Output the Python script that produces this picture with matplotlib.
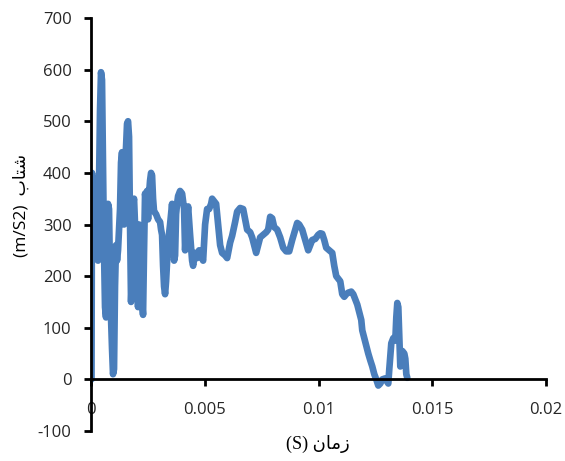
import matplotlib
matplotlib.use('Agg')
import matplotlib.pyplot as plt
import numpy as np

plt.rcParams['axes.unicode_minus'] = False

# time in microseconds, acceleration in m/s^2
time_us = [22, 44, 88, 132, 176, 220, 264, 308, 352, 396, 440, 484, 528, 572,
           616, 660, 704, 748, 792, 836, 880, 924, 968, 1012, 1056, 1100, 1144,
           1188, 1276, 1320, 1364, 1408, 1452, 1496, 1540, 1584, 1628, 1672,
           1716, 1760, 1804, 1848, 1892, 1936, 1980, 2024, 2068, 2112, 2156,
           2200, 2244, 2288, 2332, 2376, 2420, 2464, 2508, 2552, 2596, 2640,
           2684, 2728, 2772, 2860, 2948, 3036, 3080, 3124, 3168, 3212, 3256,
           3300, 3388, 3476, 3564, 3608, 3652, 3696, 3740, 3784, 3828, 3916,
           4004, 4092, 4136, 4180, 4268, 4356, 4444, 4488, 4576, 4664, 4752,
           4840, 4928, 5016, 5104, 5192, 5280, 5324, 5412, 5500, 5588, 5676,
           5764, 5896, 5984, 6116, 6204, 6336, 6424, 6556, 6688, 6776, 6864,
           6996, 7084, 7172, 7260, 7348, 7436, 7568, 7700, 7788, 7876, 7964,
           8052, 8184, 8316, 8448, 8580, 8712, 8844, 8976, 9064, 9152, 9284,
           9416, 9548, 9636, 9724, 9856, 9988, 10076, 10164, 10252, 10340,
           10472, 10604, 10692, 10780, 10868, 10956, 11044, 11132, 11220,
           11308, 11440, 11528, 11616, 11704, 11792, 11880, 11924, 12012,
           12100, 12188, 12276, 12364, 12452, 12540, 12628, 12716, 12804,
           12936, 13024, 13068, 13112, 13200, 13288, 13376, 13420, 13464,
           13508, 13552, 13596, 13640, 13684, 13772, 13816, 13860, 13904]
accel = [0, 400, 330, 390, 240, 370, 250, 230, 380, 520, 595, 580, 420, 250,
         140, 120, 250, 340, 330, 200, 120, 60, 10, 20, 180, 260, 230,
         250, 330, 420, 440, 380, 300, 420, 450, 495, 500, 470,
         300, 150, 200, 340, 350, 300, 180, 260, 140, 300, 200,
         250, 150, 125, 250, 360, 340, 365, 310, 360, 385, 400,
         395, 350, 325, 320, 310, 305, 290, 280, 220, 180, 165,
         190, 265, 300, 340, 300, 230, 240, 320, 340, 355, 365,
         360, 330, 250, 290, 335, 280, 230, 220, 245, 235, 250,
         240, 230, 300, 330, 330, 340, 350, 345, 340, 300, 260,
         245, 240, 235, 265, 278, 305, 325, 332, 330, 310, 290,
         285, 275, 260, 245, 260, 275, 280, 285, 290, 315, 312,
         295, 290, 275, 255, 248, 248, 270, 290, 303, 300, 290,
         270, 250, 260, 270, 272, 280, 283, 282, 270, 255,
         250, 245, 220, 200, 195, 190, 165, 160, 165,
         168, 170, 165, 155, 145, 130, 115, 95, 80,
         65, 50, 37, 25, 10, 0, -12, -8, 0,
         2, -5, -8, 20, 70, 80, 75, 120, 148,
         140, 80, 25, 30, 55, 50, 40, 10, 3]

x_ticks = [0, 0.005, 0.01, 0.015, 0.02]
x_tick_labels = ['0', '0.005', '0.01', '0.015', '0.02']
y_ticks = [-100, 0, 100, 200, 300, 400, 500, 600, 700]

t = np.array(time_us) * 1e-6

fig = plt.figure(figsize=(5.65, 4.61), dpi=100)
ax = fig.add_axes([91 / 565, 30 / 461, 455 / 565, 413 / 461])

ax.plot(t, accel, color='#4A7EBB', linewidth=4.8, solid_joinstyle='round',
        solid_capstyle='round')

ax.set_xlim(0, 0.02)
ax.set_ylim(-100, 700)
ax.set_xticks(x_ticks)
ax.set_xticklabels(x_tick_labels)
ax.set_yticks(y_ticks)
ax.set_yticklabels([str(v) for v in y_ticks])

ax.spines['top'].set_visible(False)
ax.spines['right'].set_visible(False)
ax.spines['bottom'].set_position(('data', 0))
for s in ('left', 'bottom'):
    ax.spines[s].set_linewidth(2)
    ax.spines[s].set_color('black')

ax.tick_params(axis='both', direction='out', length=5, width=2,
               labelsize=12, colors='black')
ax.tick_params(axis='x', pad=11)
ax.tick_params(axis='y', pad=9)
for lbl in ax.get_xticklabels() + ax.get_yticklabels():
    lbl.set_family(['Open Sans', 'DejaVu Sans'])
    lbl.set_color('#262626')

# Arabic labels written in visual order with presentation forms
fig.text(318 / 565, 1 - 444 / 461, '(S) \uFEE5\uFE8E\uFEE3\uFEAF',
         ha='center', va='center', fontsize=13,
         family=['Liberation Serif', 'DejaVu Sans'])
fig.text(22 / 565, 1 - 205 / 461, '(m/S2)  \uFE8F\uFE8E\uFE98\uFEB7',
         ha='center', va='center', rotation=90, fontsize=12.5,
         family=['Open Sans', 'DejaVu Sans'])

fig.savefig('out.png', dpi=100)
